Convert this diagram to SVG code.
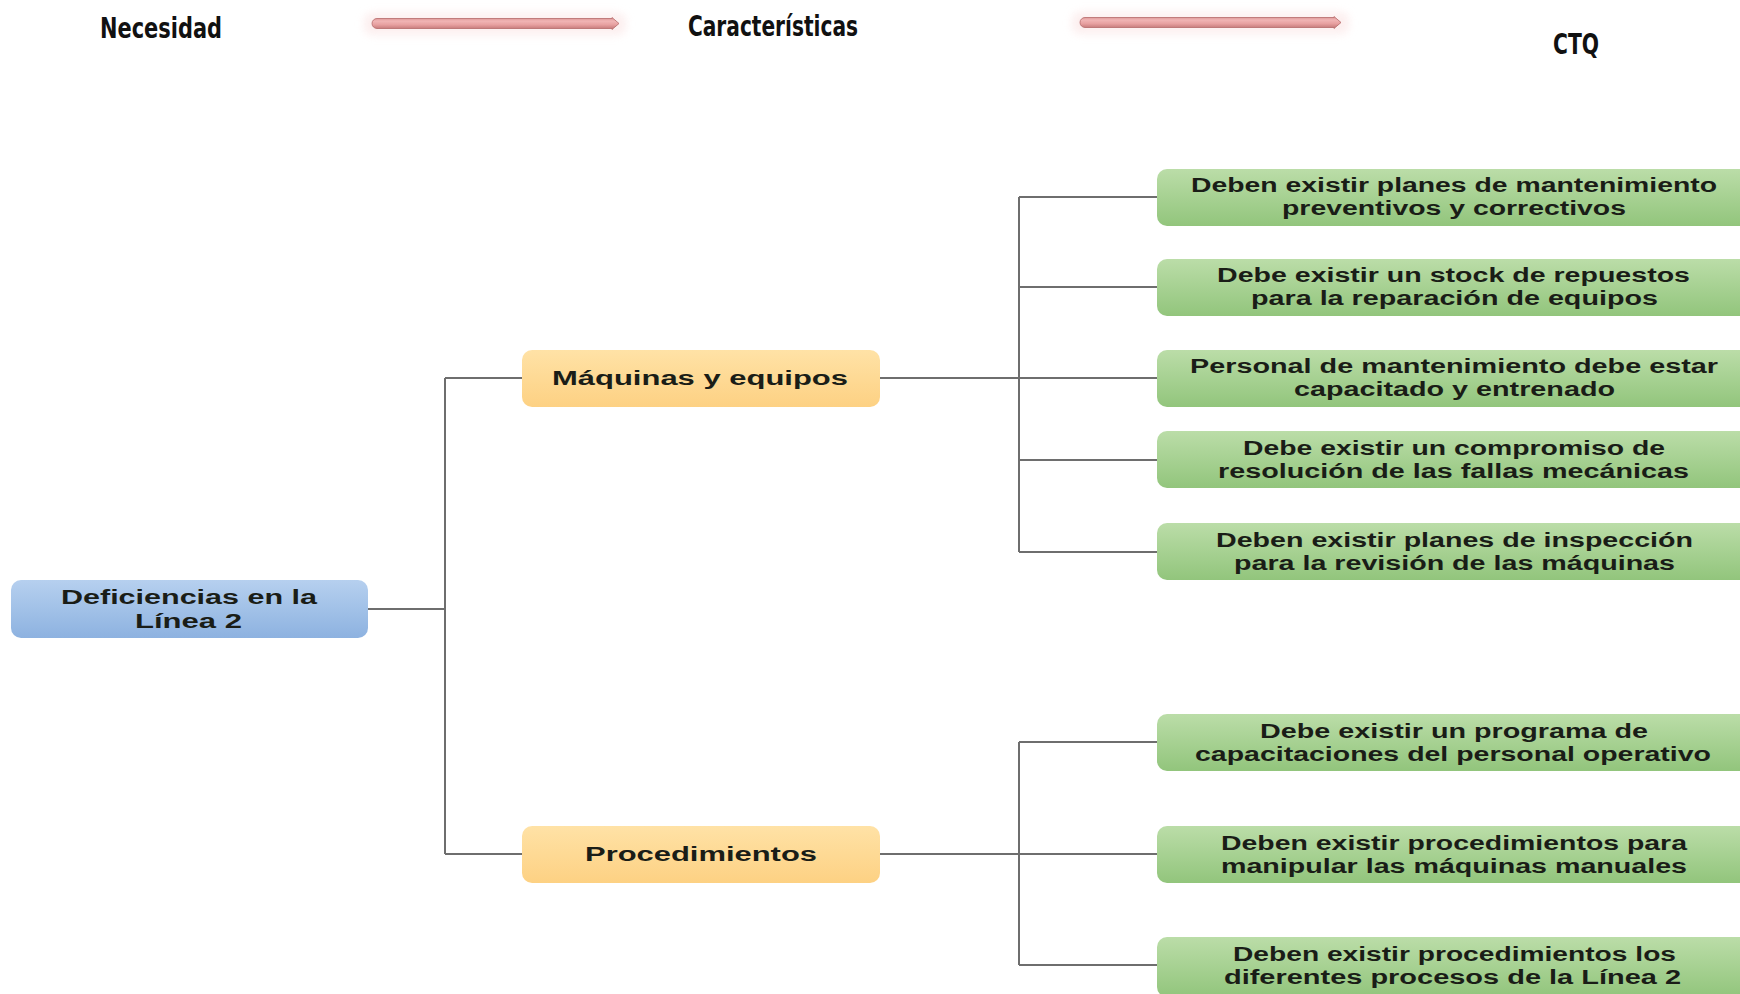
<svg xmlns="http://www.w3.org/2000/svg" width="1740" height="994" viewBox="0 0 1740 994">
  <defs>
    <linearGradient id="gBlue" x1="0" y1="0" x2="0" y2="1">
      <stop offset="0" stop-color="#b6d0ef"/>
      <stop offset="1" stop-color="#8db2e0"/>
    </linearGradient>
    <linearGradient id="gOrange" x1="0" y1="0" x2="0" y2="1">
      <stop offset="0" stop-color="#ffe2a6"/>
      <stop offset="1" stop-color="#fdd183"/>
    </linearGradient>
    <linearGradient id="gGreen" x1="0" y1="0" x2="0" y2="1">
      <stop offset="0" stop-color="#bbdda8"/>
      <stop offset="1" stop-color="#92c57c"/>
    </linearGradient>
    <linearGradient id="gArrow" x1="0" y1="0" x2="0" y2="1">
      <stop offset="0" stop-color="#d99090"/>
      <stop offset="0.3" stop-color="#f0b4b4"/>
      <stop offset="0.6" stop-color="#e7a0a0"/>
      <stop offset="1" stop-color="#bf7474"/>
    </linearGradient>
    <filter id="glow" x="-10%" y="-200%" width="120%" height="500%">
      <feGaussianBlur stdDeviation="4"/>
    </filter>
  </defs>
  <style>
    .head { font-family: "DejaVu Sans Condensed", "Liberation Sans", sans-serif; font-weight: bold; font-size: 28px; fill: #111; }
    .lbl { font-family: "Liberation Sans", Arial, sans-serif; font-weight: bold; font-size: 20px; fill: #1a1d17; }
    .wire { fill: none; stroke: #6e6e6e; stroke-width: 2; }
    .arrow { fill: url(#gArrow); stroke: #b56a6a; stroke-width: 0.8; }
  </style>

  <rect width="1740" height="994" fill="#ffffff"/>

  <!-- header row -->
  <g id="header">
    <text class="head" x="100" y="38" textLength="122" lengthAdjust="spacingAndGlyphs">Necesidad</text>
    <rect x="364" y="13" width="262" height="22" rx="8" fill="#fbe4e4" opacity="0.6" filter="url(#glow)"/>
    <path class="arrow" d="M377 18.5 H612 V17.5 L619 23.5 L612 29.5 V28.5 H377 A5 5 0 0 1 377 18.5 Z"/>
    <text class="head" x="688" y="36" textLength="170" lengthAdjust="spacingAndGlyphs">Características</text>
    <rect x="1072" y="12" width="277" height="22" rx="8" fill="#fbe4e4" opacity="0.6" filter="url(#glow)"/>
    <path class="arrow" d="M1085 17.5 H1334 V16.5 L1341 22.5 L1334 28.5 V27.5 H1085 A5 5 0 0 1 1085 17.5 Z"/>
    <text class="head" x="1553" y="54" textLength="46" lengthAdjust="spacingAndGlyphs">CTQ</text>
  </g>

  <!-- connectors -->
  <g id="connectors">
    <path class="wire" d="M368 609 H445"/>
    <path class="wire" d="M445 378 V854"/>
    <path class="wire" d="M445 378 H522"/>
    <path class="wire" d="M445 854 H522"/>
    <path class="wire" d="M880 378 H1019"/>
    <path class="wire" d="M1019 197 V552"/>
    <path class="wire" d="M1019 197 H1157"/>
    <path class="wire" d="M1019 287 H1157"/>
    <path class="wire" d="M1019 378 H1157"/>
    <path class="wire" d="M1019 460 H1157"/>
    <path class="wire" d="M1019 552 H1157"/>
    <path class="wire" d="M880 854 H1019"/>
    <path class="wire" d="M1019 742 V965"/>
    <path class="wire" d="M1019 742 H1157"/>
    <path class="wire" d="M1019 854 H1157"/>
    <path class="wire" d="M1019 965 H1157"/>
  </g>

  <!-- root -->
  <g id="root">
    <rect x="11" y="580" width="357" height="58" rx="10" fill="url(#gBlue)"/>
    <text class="lbl" x="61" y="604" textLength="256" lengthAdjust="spacingAndGlyphs">Deficiencias en la</text>
    <text class="lbl" x="135" y="628" textLength="107" lengthAdjust="spacingAndGlyphs">Línea 2</text>
  </g>

  <!-- second level -->
  <g id="maquinas">
    <rect x="522" y="350" width="358" height="57" rx="10" fill="url(#gOrange)"/>
    <text class="lbl" x="552" y="385" textLength="296" lengthAdjust="spacingAndGlyphs">Máquinas y equipos</text>
  </g>
  <g id="procedimientos">
    <rect x="522" y="826" width="358" height="57" rx="10" fill="url(#gOrange)"/>
    <text class="lbl" x="585" y="861" textLength="232" lengthAdjust="spacingAndGlyphs">Procedimientos</text>
  </g>

  <!-- requirements -->
  <g id="req1">
    <rect x="1157" y="169" width="600" height="57" rx="10" fill="url(#gGreen)"/>
    <text class="lbl" x="1191" y="192" textLength="526" lengthAdjust="spacingAndGlyphs">Deben existir planes de mantenimiento</text>
    <text class="lbl" x="1282" y="215" textLength="344" lengthAdjust="spacingAndGlyphs">preventivos y correctivos</text>
  </g>
  <g id="req2">
    <rect x="1157" y="259" width="600" height="57" rx="10" fill="url(#gGreen)"/>
    <text class="lbl" x="1217" y="282" textLength="473" lengthAdjust="spacingAndGlyphs">Debe existir un stock de repuestos</text>
    <text class="lbl" x="1251" y="305" textLength="407" lengthAdjust="spacingAndGlyphs">para la reparación de equipos</text>
  </g>
  <g id="req3">
    <rect x="1157" y="350" width="600" height="57" rx="10" fill="url(#gGreen)"/>
    <text class="lbl" x="1190" y="373" textLength="528" lengthAdjust="spacingAndGlyphs">Personal de mantenimiento debe estar</text>
    <text class="lbl" x="1294" y="396" textLength="321" lengthAdjust="spacingAndGlyphs">capacitado y entrenado</text>
  </g>
  <g id="req4">
    <rect x="1157" y="431" width="600" height="57" rx="10" fill="url(#gGreen)"/>
    <text class="lbl" x="1243" y="455" textLength="422" lengthAdjust="spacingAndGlyphs">Debe existir un compromiso de</text>
    <text class="lbl" x="1218" y="478" textLength="471" lengthAdjust="spacingAndGlyphs">resolución de las fallas mecánicas</text>
  </g>
  <g id="req5">
    <rect x="1157" y="523" width="600" height="57" rx="10" fill="url(#gGreen)"/>
    <text class="lbl" x="1216" y="547" textLength="477" lengthAdjust="spacingAndGlyphs">Deben existir planes de inspección</text>
    <text class="lbl" x="1234" y="570" textLength="441" lengthAdjust="spacingAndGlyphs">para la revisión de las máquinas</text>
  </g>
  <g id="req6">
    <rect x="1157" y="714" width="600" height="57" rx="10" fill="url(#gGreen)"/>
    <text class="lbl" x="1260" y="738" textLength="388" lengthAdjust="spacingAndGlyphs">Debe existir un programa de</text>
    <text class="lbl" x="1195" y="761" textLength="516" lengthAdjust="spacingAndGlyphs">capacitaciones del personal operativo</text>
  </g>
  <g id="req7">
    <rect x="1157" y="826" width="600" height="57" rx="10" fill="url(#gGreen)"/>
    <text class="lbl" x="1221" y="850" textLength="466" lengthAdjust="spacingAndGlyphs">Deben existir procedimientos para</text>
    <text class="lbl" x="1221" y="873" textLength="466" lengthAdjust="spacingAndGlyphs">manipular  las máquinas  manuales</text>
  </g>
  <g id="req8">
    <rect x="1157" y="937" width="600" height="60" rx="10" fill="url(#gGreen)"/>
    <text class="lbl" x="1233" y="961" textLength="443" lengthAdjust="spacingAndGlyphs">Deben existir procedimientos los</text>
    <text class="lbl" x="1224" y="984" textLength="457" lengthAdjust="spacingAndGlyphs">diferentes procesos de la Línea 2</text>
  </g>
</svg>
